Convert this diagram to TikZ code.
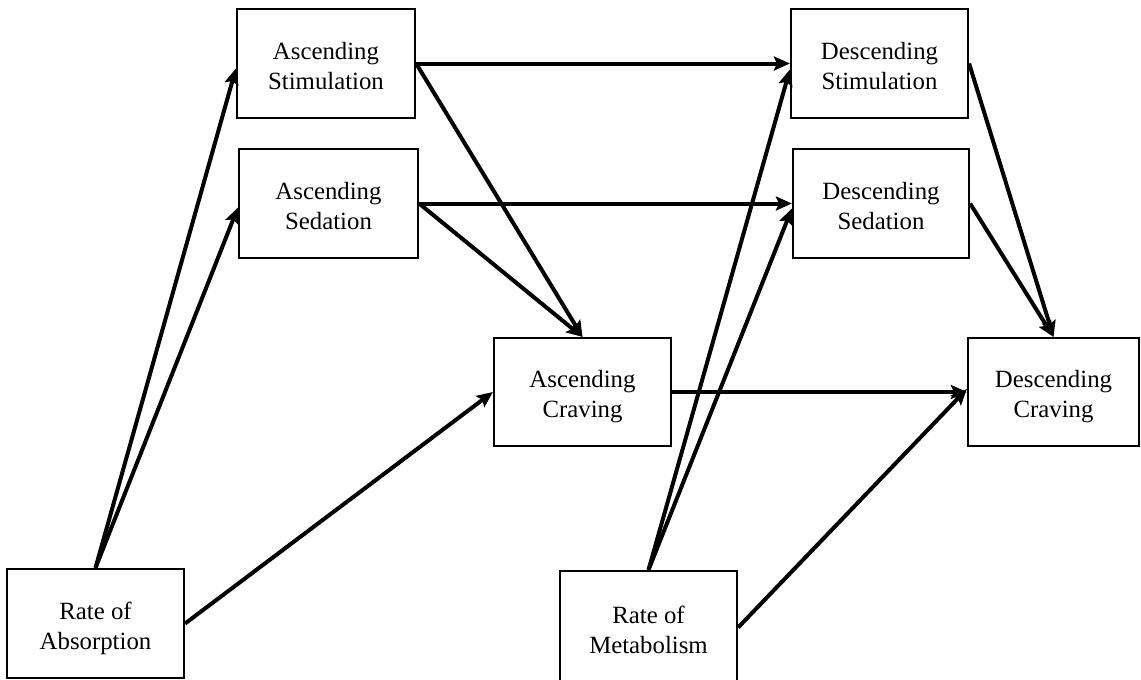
\documentclass[tikz,border=0pt]{standalone}
\usepackage{fontspec}
\setmainfont{Liberation Serif}
\usetikzlibrary{arrows.meta}
\begin{document}
\begin{tikzpicture}[x=1pt,y=-1pt,
  box/.style={draw, line width=2.2pt, rectangle, align=center, inner sep=0pt,
    text height=57pt, text depth=5.5pt,
    font=\fontsize{24.8}{30}\selectfont},
  link/.style={line width=4pt, -{Stealth[length=16pt,width=14pt,inset=3pt]}}]
\useasboundingbox (0,0) rectangle (1141,680);

% factor boxes
\node[box, minimum width=178pt, minimum height=109pt] (astim) at (326,63.5) {Ascending\\Stimulation};
\node[box, minimum width=179pt, minimum height=109pt] (ased)  at (328.5,203.5) {Ascending\\Sedation};
\node[box, minimum width=177pt, minimum height=108pt] (acrav) at (582.5,392) {Ascending\\Craving};
\node[box, minimum width=177pt, minimum height=109pt] (rabs)  at (95.5,623.5) {Rate of\\Absorption};
\node[box, minimum width=177pt, minimum height=109pt] (dstim) at (879.5,63.5) {Descending\\Stimulation};
\node[box, minimum width=176pt, minimum height=109pt] (dsed)  at (881,203.5) {Descending\\Sedation};
\node[box, minimum width=171pt, minimum height=108pt] (dcrav) at (1053.5,392) {Descending\\Craving};
\node[box, minimum width=177pt, minimum height=113pt] (rmet)  at (648.5,627.5) {Rate of\\Metabolism};

% ascending paths
\draw[link] (rabs.north) -- ([yshift=-5pt]astim.west);
\draw[link] (rabs.north) -- ([yshift=-4pt]ased.west);
\draw[link] (rabs.east) -- (acrav.west);
\draw[link] (astim.east) -- (acrav.north);
\draw[link] (ased.east) -- (acrav.north);

% ascending to descending
\draw[link] (astim.east) -- (dstim.west);
\draw[link] (ased.east) -- (dsed.west);
\draw[link] (acrav.east) -- (dcrav.west);

% descending paths
\draw[link] (rmet.north) -- ([yshift=-6pt]dstim.west);
\draw[link] (rmet.north) -- ([yshift=-5pt]dsed.west);
\draw[link] (rmet.east) -- ([yshift=3pt]dcrav.west);
\draw[link] (dstim.east) -- (dcrav.north);
\draw[link] (dsed.east) -- (dcrav.north);
\end{tikzpicture}
\end{document}
